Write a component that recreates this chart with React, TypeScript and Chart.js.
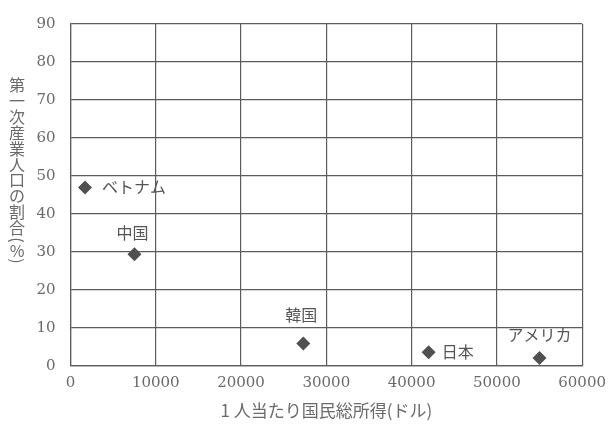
import { useEffect, useRef } from 'react';
import { Chart, registerables } from 'chart.js';

Chart.register(...registerables);

// ---- data ----
const countries = ['ベトナム', '中国', '韓国', '日本', 'アメリカ'];
const gniPerCapita = [1700, 7500, 27300, 42000, 55000];
const primaryShare = [47, 29.4, 5.9, 3.6, 2.1];
const xTickValues = [0, 10000, 20000, 30000, 40000, 50000, 60000];
const yTickValues = [0, 10, 20, 30, 40, 50, 60, 70, 80, 90];
const xTitle = '1 人当たり国民総所得(ドル)';
const yTitle = '第一次産業人口の割合(%)';

// ---- label placement (style) ----
const LABEL_PLACE: Record<string, { dx: number; dy: number; align: CanvasTextAlign }> = {
  'ベトナム': { dx: 17, dy: 0, align: 'left' },
  '中国': { dx: -2, dy: -21, align: 'center' },
  '韓国': { dx: -2, dy: -29, align: 'center' },
  '日本': { dx: 13, dy: 0, align: 'left' },
  'アメリカ': { dx: 0, dy: -23, align: 'center' },
};

const JP_FONT = '"Noto Sans CJK JP", "Noto Sans", sans-serif';
const NUM_FONT = '"DejaVu Serif", "Liberation Serif", serif';
const TEXT_COLOR = '#6a6a6a';
const GRID_COLOR = '#5c5c5c';

const overlayPlugin = {
  id: 'overlayText',
  afterDatasetsDraw(chart: any) {
    const ctx = chart.ctx as CanvasRenderingContext2D;
    const xs = chart.scales.x;
    const ys = chart.scales.y;
    ctx.save();
    // point labels
    ctx.font = `16px ${JP_FONT}`;
    ctx.fillStyle = '#555';
    ctx.textBaseline = 'middle';
    countries.forEach((name, i) => {
      const p = LABEL_PLACE[name] || { dx: 10, dy: 0, align: 'left' as CanvasTextAlign };
      const px = xs.getPixelForValue(gniPerCapita[i]);
      const py = ys.getPixelForValue(primaryShare[i]);
      ctx.textAlign = p.align;
      ctx.fillText(name, px + p.dx, py + p.dy);
    });
    // vertical y-axis title
    ctx.font = `16px ${JP_FONT}`;
    ctx.fillStyle = TEXT_COLOR;
    ctx.textAlign = 'center';
    ctx.textBaseline = 'middle';
    const cx = 17;
    let cy = 77;
    for (const ch of Array.from(yTitle)) {
      if (ch === '(' || ch === ')') {
        const adv = 8;
        const my = cy + adv / 2;
        ctx.save();
        ctx.translate(cx, my);
        ctx.rotate(Math.PI / 2);
        ctx.fillText(ch, 0, 0);
        ctx.restore();
        cy += adv;
      } else if (ch === '%') {
        const adv = 13;
        ctx.fillText(ch, cx, cy + adv / 2);
        cy += adv;
      } else {
        const adv = 15.9;
        ctx.fillText(ch, cx, cy + adv / 2);
        cy += adv;
      }
    }
    ctx.restore();
  },
};

export default function App() {
  const canvasRef = useRef<HTMLCanvasElement | null>(null);

  useEffect(() => {
    document.body.style.margin = '0';
    const canvas = canvasRef.current;
    if (!canvas) return;
    const chart = new Chart(canvas, {
      type: 'scatter',
      data: {
        datasets: [
          {
            label: 'countries',
            data: gniPerCapita.map((x, i) => ({ x, y: primaryShare[i] })),
            pointStyle: 'rectRot',
            pointRadius: 7,
            pointHoverRadius: 7,
            backgroundColor: '#505050',
            borderColor: '#505050',
            borderWidth: 0,
          },
        ],
      },
      options: {
        animation: false,
        responsive: false,
        devicePixelRatio: 1,
        layout: { padding: { top: 17, right: 28.5, left: 0, bottom: 0 } },
        plugins: {
          legend: { display: false },
          tooltip: { enabled: false },
          title: { display: false },
        },
        scales: {
          x: {
            type: 'linear',
            min: xTickValues[0],
            max: xTickValues[xTickValues.length - 1],
            afterBuildTicks: (s: any) => {
              s.ticks = xTickValues.map((v) => ({ value: v }));
            },
            afterFit: (s: any) => {
              s.height = 60;
            },
            grid: { color: GRID_COLOR, lineWidth: 1.2, drawTicks: false },
            border: { color: GRID_COLOR, width: 1.2 },
            ticks: {
              padding: 8,
              color: TEXT_COLOR,
              font: { family: NUM_FONT, size: 15 },
              maxRotation: 0,
              autoSkip: false,
              callback: (v: any) => String(v),
            },
            title: {
              display: true,
              text: xTitle,
              color: TEXT_COLOR,
              font: { family: JP_FONT, size: 17 },
              padding: { top: 0, bottom: 5 },
            },
          },
          y: {
            type: 'linear',
            min: yTickValues[0],
            max: yTickValues[yTickValues.length - 1],
            afterBuildTicks: (s: any) => {
              s.ticks = yTickValues.map((v) => ({ value: v }));
            },
            afterFit: (s: any) => {
              s.width = 70.5;
            },
            grid: { color: GRID_COLOR, lineWidth: 1.2, drawTicks: false },
            border: { color: GRID_COLOR, width: 1.2 },
            ticks: {
              padding: 15,
              color: TEXT_COLOR,
              font: { family: NUM_FONT, size: 15 },
              autoSkip: false,
              callback: (v: any) => String(v),
            },
          },
        },
      },
      plugins: [overlayPlugin],
    });
    return () => chart.destroy();
  }, []);

  return (
    <div style={{ position: 'absolute', left: 0, top: 0, width: 614, height: 426, background: '#fff' }}>
      <canvas ref={canvasRef} width={614} height={426} />
    </div>
  );
}
